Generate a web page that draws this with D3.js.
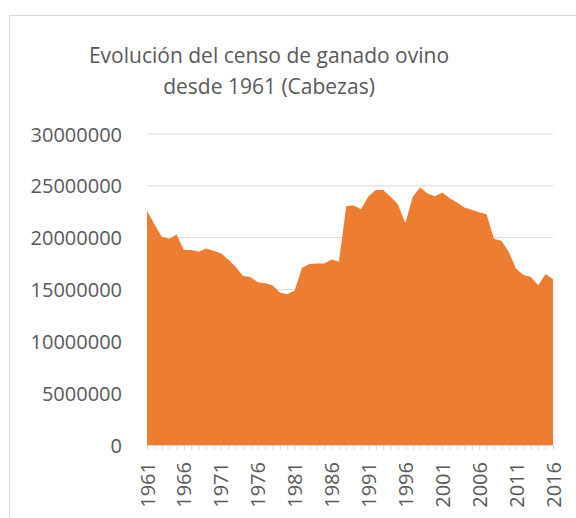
<!DOCTYPE html>
<html>
<head>
<meta charset="utf-8">
<script src="https://cdn.jsdelivr.net/npm/d3@7"></script>
<style>
  body { margin: 0; background: #fff; }
  svg text { font-family: "Open Sans", sans-serif; fill: #595959; }
</style>
</head>
<body>
<svg id="chart"></svg>
<script>
const years = d3.range(1961, 2017);
const heads = [
  22600000, 21300000, 20100000, 19900000, 20300000, 18800000, 18800000, 18650000, 18950000, 18750000,
  18500000, 17900000, 17200000, 16300000, 16200000, 15700000, 15600000, 15400000, 14700000, 14550000,
  14900000, 17100000, 17450000, 17500000, 17500000, 17900000, 17700000, 23050000, 23100000, 22750000,
  24000000, 24600000, 24600000, 23950000, 23200000, 21400000, 23950000, 24850000, 24250000, 24000000,
  24350000, 23800000, 23400000, 22900000, 22700000, 22450000, 22250000, 19900000, 19700000, 18650000,
  17000000, 16400000, 16200000, 15400000, 16500000, 16000000
];
const yTicks = [0, 5000000, 10000000, 15000000, 20000000, 25000000, 30000000];
const xLabels = d3.range(1961, 2017, 5);
const titleLines = ["Evolución del censo de ganado ovino", "desde 1961 (Cabezas)"];

const w = 576;
const h = 518;
const plotLeft = 147, plotRight = 553, plotTop = 134, plotBottom = 445;

const svg = d3.select('#chart').attr('width', w).attr('height', h);

// chart frame
svg.append('rect')
  .attr('x', 9.5).attr('y', 15.5)
  .attr('width', 600).attr('height', 600)
  .attr('fill', 'none').attr('stroke', '#d9d9d9');

const x = d3.scaleLinear().domain([1961, 2016]).range([plotLeft, plotRight]);
const y = d3.scaleLinear().domain([0, 30000000]).range([plotBottom, plotTop]);

// gridlines
svg.append('g')
  .selectAll('line')
  .data(yTicks.filter(d => d > 0))
  .enter()
  .append('line')
  .attr('x1', plotLeft).attr('x2', plotRight)
  .attr('y1', d => y(d)).attr('y2', d => y(d))
  .attr('stroke', '#d9d9d9').attr('stroke-width', 1);

// area
const area = d3.area()
  .x((d, i) => x(years[i]))
  .y0(y(0))
  .y1(d => y(d));

svg.append('path')
  .datum(heads)
  .attr('d', area)
  .attr('fill', '#ED7D31');

// y axis labels
const yAxis = d3.axisLeft(y).tickValues(yTicks).tickSize(0).tickPadding(0).tickFormat(d3.format('d'));
const gy = svg.append('g')
  .attr('transform', 'translate(122,0)')
  .call(yAxis);
gy.select('.domain').remove();
gy.selectAll('text').attr('font-size', 20).attr('dy', '0.35em');

// x axis
const xAxis = d3.axisBottom(x).tickValues(years).tickSize(5).tickFormat(d => xLabels.includes(d) ? d : '');
const gx = svg.append('g')
  .attr('transform', 'translate(0,' + plotBottom + ')')
  .call(xAxis);
gx.select('.domain').attr('stroke', '#d9d9d9').attr('d', 'M' + plotLeft + ',0.5H' + plotRight);
gx.selectAll('.tick line').attr('stroke', '#d9d9d9');
gx.selectAll('text')
  .attr('font-size', 20)
  .attr('transform', 'rotate(-90)')
  .attr('x', -17).attr('y', 0).attr('dy', '0.35em')
  .attr('text-anchor', 'end');

// title
svg.append('g')
  .selectAll('text')
  .data(titleLines)
  .enter()
  .append('text')
  .attr('x', 269)
  .attr('y', (d, i) => 63 + i * 31)
  .attr('text-anchor', 'middle')
  .attr('font-size', 21)
  .text(d => d);
</script>
</body>
</html>
